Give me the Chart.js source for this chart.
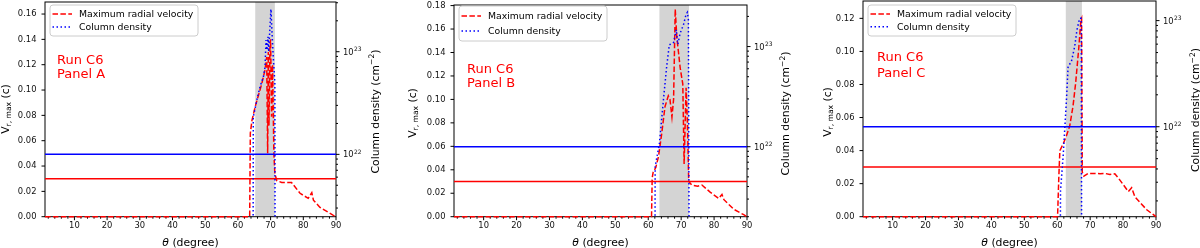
<!DOCTYPE html>
<html>
<head>
<meta charset="utf-8">
<script src="https://cdn.jsdelivr.net/npm/chart.js@4.4.1/dist/chart.umd.min.js"></script>
<style>
html, body { margin: 0; padding: 0; background: #fff; }
#wrap { position: relative; width: 1200px; height: 248px; overflow: hidden; }
canvas { position: absolute; top: 0; }
</style>
</head>
<body>
<div id="wrap">
  <canvas id="panelA" width="400" height="248" style="left:0px"></canvas>
  <canvas id="panelB" width="400" height="248" style="left:400px"></canvas>
  <canvas id="panelC" width="400" height="248" style="left:800px"></canvas>
</div>
<script>
// ---- values ----
var thetaTicks = [2, 4, 6, 8, 10, 12, 14, 16, 18, 20, 22, 24, 26, 28, 30, 32, 34, 36, 38, 40,
  42, 44, 46, 48, 50, 52, 54, 56, 58, 60, 62, 64, 66, 68, 70, 72, 74, 76, 78, 80,
  82, 84, 86, 88, 90];
var velTicksA = [0, 0.02, 0.04, 0.06, 0.08, 0.10, 0.12, 0.14, 0.16];
var velTicksB = [0, 0.02, 0.04, 0.06, 0.08, 0.10, 0.12, 0.14, 0.16, 0.18];
var velTicksC = [0, 0.02, 0.04, 0.06, 0.08, 0.10, 0.12];
var densityMajor = [1e22, 1e23];
var densityExp = ['22', '23'];

var velLimit = 0.03;      // red horizontal line (left axis)
var densityLimit = 1e22;  // blue horizontal line (right axis)

// panel A
var velThetaA = [1, 63.6, 63.8, 64.3, 65.3, 66.3, 67.3, 68.3, 68.8, 69.1, 69.3, 69.5, 69.8, 70.0, 70.3,
  70.6, 71.0, 71.3, 71.9, 73.4, 75.4, 76.4, 79.0, 81.5, 82.6, 83.1, 85.1, 87.6, 89.2, 90];
var velA = [0, 0, 0.066, 0.076, 0.087, 0.096, 0.105, 0.116, 0.126, 0.05, 0.13, 0.072, 0.135, 0.14, 0.079,
  0.12, 0.05, 0.034, 0.0285, 0.027, 0.027, 0.027, 0.0185, 0.0145, 0.019, 0.013, 0.0073, 0.0035, 0.001, 0];
var colThetaA = [1, 64.6, 64.7, 65.8, 66.8, 67.8, 68.3, 68.6, 68.9, 69.2, 69.4, 69.7, 70.1, 70.4, 70.8, 71.3, 71.4, 90];
var colA = [1e20, 1e20, 2.3e22, 3.4e22, 4.6e22, 5.7e22, 7.1e22, 1.3e23, 1.04e23, 1.4e23, 1.0e23, 1.5e23,
  2.6e23, 1.6e23, 9e22, 5e22, 1e20, 1e20];
var bandA = [65.3, 71.3];

// panel B
var velThetaB = [1, 61.0, 61.2, 61.5, 62.3, 63.1, 64.1, 65.1, 66.1, 66.6, 67.2, 67.7, 68.2, 68.7, 69.2,
  69.7, 70.5, 70.9, 71.5, 71.9, 72.3, 73.2, 75.0, 76.3, 78.8, 81.4, 82.4, 83.0, 86.0, 89.0, 90];
var velB = [0, 0, 0.033, 0.038, 0.042, 0.051, 0.071, 0.094, 0.103, 0.1, 0.085, 0.10, 0.177, 0.152, 0.14,
  0.127, 0.113, 0.045, 0.11, 0.08, 0.03, 0.027, 0.026, 0.027, 0.021, 0.0156, 0.019, 0.0145, 0.0063, 0.0017, 0];
var colThetaB = [1, 62.0, 62.1, 63.4, 64.6, 65.6, 66.4, 67.7, 68.5, 69.0, 69.7, 70.7, 71.5, 71.9, 72.2, 72.5, 90];
var colB = [1e20, 1e20, 6.3e21, 1.08e22, 2.9e22, 6.3e22, 1.04e23, 1.1e23, 1.47e23, 1.06e23, 1.36e23,
  1.65e23, 2.1e23, 2.2e23, 1.85e23, 1e20, 1e20];
var bandB = [63.4, 72.4];

// panel C
var velThetaC = [1, 60.1, 60.5, 60.8, 61.8, 62.8, 63.8, 64.8, 65.6, 66.5, 67.2, 67.4, 67.6, 68.1, 69.4,
  71.5, 73.0, 74.5, 76.0, 77.5, 79.1, 81.6, 82.6, 83.6, 85.5, 87.2, 89.0, 90];
var velC = [0, 0, 0.025, 0.040, 0.044, 0.049, 0.055, 0.067, 0.081, 0.101, 0.119, 0.12, 0.027, 0.0245, 0.0262,
  0.0262, 0.026, 0.0262, 0.0255, 0.026, 0.022, 0.0152, 0.0175, 0.012, 0.0078, 0.0042, 0.0015, 0];
var colThetaC = [1, 60.8, 61.0, 61.8, 62.8, 63.3, 64.3, 65.3, 66.0, 66.8, 67.3, 67.45, 90];
var colC = [1e20, 1e20, 2.5e21, 5.3e21, 1.78e22, 3.7e22, 4.1e22, 5.7e22, 8.2e22, 1.05e23, 1.05e23, 1e20, 1e20];
var bandC = [62.6, 67.5];

var FONT = '"DejaVu Sans", sans-serif';

function pts(xs, ys) {
  return xs.map(function(x, i) { return { x: x, y: ys[i] }; });
}

function drawParts(ctx, parts, cx, cy, rotated) {
  ctx.save();
  ctx.translate(cx, cy);
  if (rotated) ctx.rotate(-Math.PI / 2);
  ctx.fillStyle = '#000';
  ctx.textAlign = 'left';
  ctx.textBaseline = 'alphabetic';
  var total = 0;
  parts.forEach(function(p) {
    ctx.font = (p.italic ? 'italic ' : '') + p.size + 'px ' + FONT;
    p.w = ctx.measureText(p.t).width;
    total += p.w;
  });
  var x = -total / 2;
  parts.forEach(function(p) {
    ctx.font = (p.italic ? 'italic ' : '') + p.size + 'px ' + FONT;
    ctx.fillText(p.t, x, 3.5 + (p.dy || 0));
    x += p.w;
  });
  ctx.restore();
}

var panelDeco = {
  id: 'panelDeco',
  beforeDatasetsDraw: function(chart, args, o) {
    var ctx = chart.ctx, a = chart.chartArea;
    var sx = chart.scales.x, sy = chart.scales.y, sy1 = chart.scales.y1;
    var x0 = sx.getPixelForValue(o.band[0]), x1 = sx.getPixelForValue(o.band[1]);
    ctx.save();
    ctx.fillStyle = '#d4d4d4';
    ctx.fillRect(x0, a.top, x1 - x0, a.bottom - a.top);

    ctx.strokeStyle = '#000';
    ctx.lineWidth = 1;
    function seg(xa, ya, xb, yb) { ctx.beginPath(); ctx.moveTo(xa, ya); ctx.lineTo(xb, yb); ctx.stroke(); }
    sx.ticks.forEach(function(t) {
      var p = sx.getPixelForValue(t.value);
      seg(p, a.bottom, p, a.bottom + (t.value % 10 === 0 ? 3.5 : 2));
    });
    sy.ticks.forEach(function(t) {
      var p = sy.getPixelForValue(t.value);
      seg(a.left - 3.5, p, a.left, p);
    });
    sy1.ticks.forEach(function(t) {
      var p = sy1.getPixelForValue(t.value);
      var lg = Math.log10(t.value);
      var major = Math.abs(lg - Math.round(lg)) < 1e-6;
      seg(a.right, p, a.right + (major ? 3.5 : 2), p);
    });
    ctx.strokeRect(a.left, a.top, a.right - a.left, a.bottom - a.top);

    // right axis labels, 10 with raised exponent
    ctx.fillStyle = '#111';
    ctx.textAlign = 'left';
    ctx.textBaseline = 'alphabetic';
    densityMajor.forEach(function(v, i) {
      var p = sy1.getPixelForValue(v);
      ctx.font = '8.4px ' + FONT;
      ctx.fillText('10', a.right + 7, p + 3);
      var w = ctx.measureText('10').width;
      ctx.font = '6px ' + FONT;
      ctx.fillText(densityExp[i], a.right + 7 + w + 0.3, p - 0.3);
    });
    ctx.restore();
  },
  afterDraw: function(chart, args, o) {
    var ctx = chart.ctx, a = chart.chartArea;
    ctx.save();
    function seg(xa, ya, xb, yb) { ctx.beginPath(); ctx.moveTo(xa, ya); ctx.lineTo(xb, yb); ctx.stroke(); }

    // legend box
    var L = o.legend;
    ctx.beginPath();
    ctx.roundRect(a.left + 5, L.top, 148, L.h, 3);
    ctx.fillStyle = 'rgba(255,255,255,0.8)';
    ctx.fill();
    ctx.strokeStyle = '#cccccc';
    ctx.lineWidth = 1;
    ctx.stroke();
    var items = chart.data.datasets.filter(function(d) { return d.label; });
    items.sort(function(p, q) { return p.legendRank - q.legendRank; });
    items.forEach(function(d, i) {
      var yy = L.rows[i];
      ctx.strokeStyle = d.borderColor;
      ctx.lineWidth = 1.5;
      ctx.setLineDash(d.borderDash);
      seg(a.left + 7.5, yy, a.left + 27, yy);
      ctx.setLineDash([]);
      ctx.fillStyle = '#000';
      ctx.font = '9.3px ' + FONT;
      ctx.textBaseline = 'middle';
      ctx.textAlign = 'left';
      ctx.fillText(d.label, a.left + 34, yy + 0.5);
    });

    // run label
    ctx.fillStyle = '#ff0000';
    ctx.font = '13px ' + FONT;
    ctx.textBaseline = 'alphabetic';
    ctx.fillText(o.run[0], o.runX, o.runY[0]);
    ctx.fillText(o.run[1], o.runX, o.runY[1]);
    ctx.restore();

    // axis titles
    drawParts(ctx, [{ t: 'θ', size: 10.8, italic: true }, { t: ' (degree)', size: 10.8 }],
      (a.left + a.right) / 2, 242, false);
    drawParts(ctx, [{ t: 'V', size: 10.8 }, { t: 'r, max', size: 7.6, dy: 2.4 }, { t: ' (c)', size: 10.8 }],
      o.leftTitle[0], o.leftTitle[1], true);
    drawParts(ctx, [{ t: 'Column density (cm', size: 10.8 }, { t: '−2', size: 7.6, dy: -4.2 }, { t: ')', size: 10.8 }],
      o.rightTitle[0], o.rightTitle[1], true);
  }
};

function makePanel(id, p) {
  var tickFont = { family: FONT, size: 8.4 };
  var edge = { top: 2, bottom: 2, left: 2, right: 2 };
  new Chart(document.getElementById(id), {
    type: 'line',
    data: {
      datasets: [
        { data: [{ x: 1, y: densityLimit }, { x: 90, y: densityLimit }], yAxisID: 'y1',
          borderColor: '#0000ff', borderWidth: 1.5 },
        { label: 'Column density', legendRank: 2, data: pts(p.colTheta, p.col), yAxisID: 'y1',
          borderColor: '#0000ff', borderWidth: 1.5, borderDash: [1.5, 2.5], clip: 0 },
        { label: 'Maximum radial velocity', legendRank: 1, data: pts(p.velTheta, p.vel), yAxisID: 'y',
          borderColor: '#ff0000', borderWidth: 1.5, borderDash: [5.5, 2.4], clip: edge },
        { data: [{ x: 1, y: velLimit }, { x: 90, y: velLimit }], yAxisID: 'y',
          borderColor: '#ff0000', borderWidth: 1.5 }
      ]
    },
    options: {
      responsive: false,
      animation: false,
      devicePixelRatio: 1,
      layout: { padding: { top: p.top, left: 0, right: 0, bottom: 0 } },
      elements: { point: { radius: 0 }, line: { tension: 0 } },
      plugins: {
        legend: { display: false },
        tooltip: { enabled: false },
        panelDeco: {
          band: p.band, legend: p.legend, run: p.run, runX: p.runX, runY: p.runY,
          leftTitle: p.leftTitle, rightTitle: p.rightTitle
        }
      },
      scales: {
        x: {
          type: 'linear', min: 1, max: 90,
          grid: { display: false, drawTicks: false }, border: { display: false },
          afterBuildTicks: function(s) { s.ticks = thetaTicks.map(function(v) { return { value: v }; }); },
          ticks: { autoSkip: false, maxRotation: 0, padding: 4, color: '#111', font: tickFont,
            callback: function(v) { return v % 10 === 0 ? String(v) : ''; } },
          afterFit: function(s) { s.height = 31.3; s.paddingLeft = 0; s.paddingRight = 0; }
        },
        y: {
          type: 'linear', position: 'left', min: 0, max: p.velMax,
          grid: { display: false, drawTicks: false }, border: { display: false },
          afterBuildTicks: function(s) { s.ticks = p.velTicks.map(function(v) { return { value: v }; }); },
          ticks: { autoSkip: false, padding: 8.5, color: '#111', font: tickFont,
            callback: function(v) { return v.toFixed(2); } },
          afterFit: function(s) { s.width = p.left; s.paddingTop = 0; s.paddingBottom = 0; }
        },
        y1: {
          type: 'logarithmic', position: 'right', min: p.colMin, max: p.colMax,
          grid: { display: false, drawTicks: false }, border: { display: false },
          afterBuildTicks: function(s) {
            var t = [];
            for (var e = 21; e <= 23; e++) {
              for (var m = 1; m <= 9; m++) {
                var v = m * Math.pow(10, e);
                if (v >= p.colMin && v <= p.colMax) t.push({ value: v });
              }
            }
            s.ticks = t;
          },
          ticks: { autoSkip: false, display: false },
          afterFit: function(s) { s.width = 400 - p.right; s.paddingTop = 0; s.paddingBottom = 0; }
        }
      }
    },
    plugins: [panelDeco]
  });
}

makePanel('panelA', {
  velTheta: velThetaA, vel: velA, colTheta: colThetaA, col: colA, band: bandA,
  velTicks: velTicksA, velMax: 0.1695, colMin: 2.47e21, colMax: 3.05e23,
  top: 2, left: 45, right: 336,
  legend: { top: 5, h: 31, rows: [14, 27] },
  run: ['Run C6', 'Panel A'], runX: 57, runY: [64, 77.5],
  leftTitle: [5.5, 109], rightTitle: [375, 111.5]
});
makePanel('panelB', {
  velTheta: velThetaB, vel: velB, colTheta: colThetaB, col: colB, band: bandB,
  velTicks: velTicksB, velMax: 0.1805, colMin: 2e21, colMax: 2.6e23,
  top: 5, left: 54, right: 347,
  legend: { top: 6, h: 35, rows: [16, 31] },
  run: ['Run C6', 'Panel B'], runX: 67, runY: [72.8, 87.3],
  leftTitle: [12, 113], rightTitle: [385.5, 113.5]
});
makePanel('panelC', {
  velTheta: velThetaC, vel: velC, colTheta: colThetaC, col: colC, band: bandC,
  velTicks: velTicksC, velMax: 0.1305, colMin: 1.42e21, colMax: 1.53e23,
  top: 1, left: 63, right: 356,
  legend: { top: 5, h: 31, rows: [14, 26.7] },
  run: ['Run C6', 'Panel C'], runX: 77, runY: [60.7, 77.3],
  leftTitle: [27.5, 112], rightTitle: [395.5, 110]
});
</script>
</body>
</html>
